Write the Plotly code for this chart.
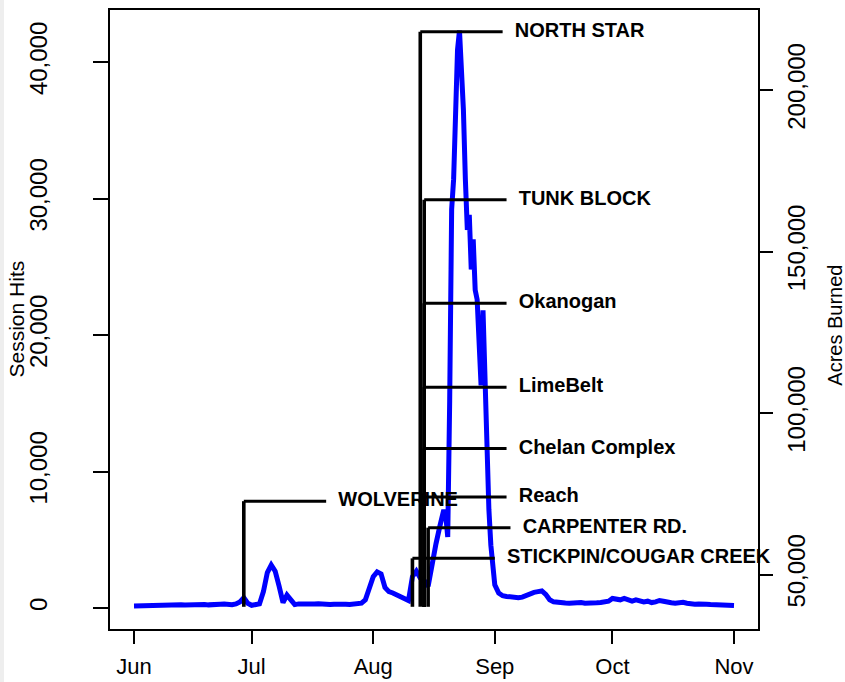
import plotly.graph_objects as go
import pandas as pd

# ---------------- data ----------------
# daily session hits, Jun 1 - Aug 18 2015
hits_jun = [150, 160, 150, 170, 160, 150, 170, 180, 250, 280, 260, 240, 230, 220, 240,
            260, 300, 280, 250, 230, 220, 240, 280, 300, 260, 240, 300, 450, 750, 350]
hits_jul = [200, 220, 300, 1200, 2600, 3150, 2700, 1600, 400, 950, 600, 250,
            300, 280, 260, 250, 300, 320, 280, 260, 250, 280, 300, 310, 270, 250, 260, 300, 350,
            600, 1500]
hits_aug_early = [2300, 2650, 2500, 1500, 1200, 1100, 950, 800, 650, 550, 2300, 2700, 2200,
                  2000, 1600, 3300, 4700, 6000]
# twice-daily readings, Aug 19 00:00 - Sep 1 00:00
hits_peak = [7200, 6800, 5200, 15200, 29200, 31400, 36500, 40900, 42300, 40100, 36500, 31400,
             27700, 28800, 24800, 27000, 23300, 22600, 18200, 16300, 21800, 16000, 11600, 7200,
             4600, 2800, 1700]
# daily, Sep 2 - Nov 1
hits_late = [1100, 900, 850, 800, 800, 750, 800, 950, 1000, 1150, 1200, 1250, 1000, 600, 450,
             400, 380, 360, 350, 380, 420, 400, 350, 330, 350, 380, 400, 450, 500,
             700, 650, 600, 700, 550, 500, 600, 550, 450, 500, 400, 450, 550, 500, 400,
             380, 350, 400, 420, 350, 300, 280, 300, 320, 280, 260, 250, 230, 220, 200, 200,
             180]

dates_early = pd.date_range("2015-06-01", "2015-08-18", freq="D")
dates_peak = pd.date_range("2015-08-19", "2015-09-01", freq="12h")
dates_late = pd.date_range("2015-09-02", "2015-11-01", freq="D")

fire_names = ["NORTH STAR", "TUNK BLOCK", "Okanogan", "LimeBelt", "Chelan Complex", "Reach",
              "CARPENTER RD.", "STICKPIN/COUGAR CREEK", "WOLVERINE"]
fire_dates = ["2015-08-13", "2015-08-14", "2015-08-14", "2015-08-14", "2015-08-14",
              "2015-08-14", "2015-08-15", "2015-08-11", "2015-06-29"]
fire_acres = [218000, 166000, 134000, 108000, 89000, 74000, 64500, 55000, 72700]
fire_base = 40000
label_lead_days = 21

month_ticks = ["2015-06-01", "2015-07-01", "2015-08-01", "2015-09-01", "2015-10-01", "2015-11-01"]
month_labels = ["Jun", "Jul", "Aug", "Sep", "Oct", "Nov"]
hits_ticks = [0, 10000, 20000, 30000, 40000]
acres_ticks = [50000, 100000, 150000, 200000]

# ---------------- figure ----------------
FONT = "Liberation Sans, Arial, sans-serif"
x_all = list(dates_early) + list(dates_peak) + list(dates_late)
y_all = hits_jun + hits_jul + hits_aug_early + hits_peak + hits_late

fig = go.Figure()
fig.add_trace(go.Scatter(x=x_all, y=y_all, mode="lines",
                         line=dict(color="#0000FF", width=5), yaxis="y",
                         showlegend=False, hoverinfo="x+y"))

# fire labels first so the later fire lines are drawn over them (as in the original)
lab_x = [pd.Timestamp(d) + pd.Timedelta(days=label_lead_days + 3.1) for d in fire_dates]
fig.add_trace(go.Scatter(x=lab_x, y=fire_acres, mode="text", yaxis="y2",
                         text=["<b>%s</b>" % n for n in fire_names],
                         textposition="middle right", cliponaxis=False,
                         textfont=dict(family=FONT, size=20, color="black"),
                         showlegend=False, hoverinfo="skip"))

for name, d, a in zip(fire_names, fire_dates, fire_acres):
    d0 = pd.Timestamp(d)
    d1 = d0 + pd.Timedelta(days=label_lead_days)
    fig.add_trace(go.Scatter(x=[d0, d0], y=[fire_base, a], mode="lines",
                             line=dict(color="black", width=3.6), yaxis="y2",
                             showlegend=False, name=name))
    fig.add_trace(go.Scatter(x=[d0, d1], y=[a, a], mode="lines",
                             line=dict(color="black", width=3), yaxis="y2",
                             showlegend=False, name=name))

start = pd.Timestamp("2015-06-01")
end = pd.Timestamp("2015-11-01")
pad = (end - start) * 0.04
xfont = dict(family=FONT, size=22, color="black")
yfont = dict(family=FONT, size=24, color="black")

fig.update_layout(
    width=845, height=682,
    margin=dict(l=110, r=87, t=10, b=53, autoexpand=False),
    paper_bgcolor="white", plot_bgcolor="white",
    showlegend=False,
    xaxis=dict(type="date", range=[start - pad, end + pad], automargin=False,
               tickvals=month_ticks, ticktext=month_labels,
               ticks="outside", ticklen=13, tickwidth=1.5, tickcolor="black",
               showline=True, linecolor="black", linewidth=1.5, mirror=True,
               showgrid=False, zeroline=False, tickfont=xfont,
               ticklabelstandoff=4),
    yaxis=dict(range=[-1538, 43810], tickvals=hits_ticks, tickformat=",d", automargin=False,
               tickangle=-90, ticks="outside", ticklen=15, tickwidth=1.5, tickcolor="black",
               showline=True, linecolor="black", linewidth=1.5, mirror=True,
               showgrid=False, zeroline=False, tickfont=yfont,
               ticklabelstandoff=37),
    yaxis2=dict(overlaying="y", side="right", range=[33127, 224768], automargin=False,
                tickvals=acres_ticks, tickformat=",d", tickangle=-90,
                ticks="outside", ticklen=13, tickwidth=1.5, tickcolor="black",
                showline=True, linecolor="black", linewidth=1.5,
                showgrid=False, zeroline=False, tickfont=yfont,
                ticklabelstandoff=3),
    annotations=[
        dict(text="Session Hits", xref="paper", yref="paper", x=0, y=0.5, xshift=-94,
             textangle=-90, showarrow=False, xanchor="center", yanchor="middle",
             font=dict(family=FONT, size=21, color="black")),
        dict(text="Acres Burned", xref="paper", yref="paper", x=1, y=0.49, xshift=77,
             textangle=-90, showarrow=False, xanchor="center", yanchor="middle",
             font=dict(family=FONT, size=20, color="black")),
    ],
    shapes=[dict(type="rect", xref="paper", yref="paper", x0=-110 / 648, x1=-106 / 648,
                 y0=-53 / 619, y1=1 + 10 / 619, fillcolor="#eeeeee", line=dict(width=0),
                 layer="below")],
)

fig.write_html("out.html", config={"displayModeBar": False},
               post_script="document.body.style.margin='0px';document.body.style.padding='0px';")
